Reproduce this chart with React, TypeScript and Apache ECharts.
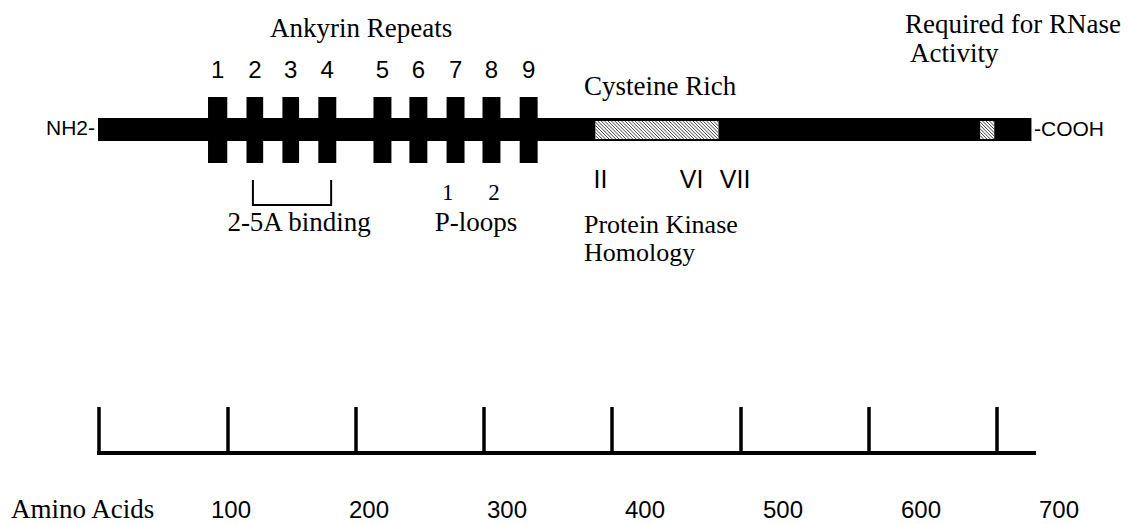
import React, { useEffect, useRef } from "react";
import * as echarts from "echarts";

// ---- data (amino-acid positions) ----
const proteinLength = 727;
const axisExtent = 729;
const ankyrinRepeats: number[][] = [
  [85, 100], [115, 128], [143, 156], [171, 185], [214, 228],
  [242, 256], [271, 285], [299, 313], [328, 342],
];
const ankyrinNumbers = ["1", "2", "3", "4", "5", "6", "7", "8", "9"];
const hatchedRegions: number[][] = [[387, 483], [687, 698]];
const bindingRegion: number[][] = [[120, 181]];
const pLoopLabels = ["1", "2"];
const pLoopPositions = [272, 308];
const kinaseLabels = ["II", "VI", "VII"];
const kinasePositions = [391, 462, 496];
const rulerTicks = [0, 100, 200, 300, 400, 500, 600, 700];
const rulerLabels = [100, 200, 300, 400, 500, 600, 700];

const SERIF = "'Liberation Serif', 'Times New Roman', serif";
const SANS = "'Liberation Sans', Arial, sans-serif";

export default function App() {
  const ref = useRef<HTMLDivElement>(null);
  useEffect(() => {
    if (!ref.current) return;
    const chart = echarts.init(ref.current, null, { renderer: "svg" });

    const backbone = {
      type: "custom",
      xAxisIndex: 0,
      yAxisIndex: 0,
      encode: { x: [0, 1], y: 2 },
      data: [[0, proteinLength, 0]],
      renderItem: (params: any, api: any) => {
        const s = api.coord([api.value(0), 0]);
        const e = api.coord([api.value(1), 0]);
        return {
          type: "rect",
          shape: { x: s[0] - 1, y: s[1] - 12, width: e[0] - s[0] + 1, height: 23 },
          style: { fill: "#000" },
        };
      },
    };

    const repeats = {
      type: "custom",
      xAxisIndex: 0,
      yAxisIndex: 0,
      encode: { x: [0, 1], y: 2 },
      data: ankyrinRepeats.map((r, i) => [r[0], r[1], 0, i]),
      renderItem: (params: any, api: any) => {
        const s = api.coord([api.value(0), 0]);
        const e = api.coord([api.value(1), 0]);
        const idx = api.value(3);
        return {
          type: "group",
          children: [
            {
              type: "rect",
              shape: { x: s[0], y: s[1] - 33, width: e[0] - s[0], height: 66 },
              style: { fill: "#000" },
            },
            {
              type: "text",
              style: {
                text: ankyrinNumbers[idx],
                x: (s[0] + e[0]) / 2,
                y: s[1] - 61,
                align: "center",
                verticalAlign: "middle",
                font: `24px ${SANS}`,
                fill: "#000",
              },
            },
          ],
        };
      },
    };

    const hatches = {
      type: "custom",
      xAxisIndex: 0,
      yAxisIndex: 0,
      encode: { x: [0, 1], y: 2 },
      data: hatchedRegions.map((r) => [r[0], r[1], 0]),
      renderItem: (params: any, api: any) => {
        const s = api.coord([api.value(0), 0]);
        const e = api.coord([api.value(1), 0]);
        const x0 = s[0];
        const y0 = s[1] - 9;
        const w = e[0] - s[0];
        const h = 18;
        const children: any[] = [
          { type: "rect", shape: { x: x0, y: y0, width: w, height: h }, style: { fill: "#fff" } },
        ];
        const d = 3.4;
        for (let c = -h; c < w; c += d) {
          const vmin = Math.max(0, -c);
          const vmax = Math.min(h, w - c);
          if (vmax > vmin) {
            children.push({
              type: "line",
              shape: { x1: x0 + vmin + c, y1: y0 + vmin, x2: x0 + vmax + c, y2: y0 + vmax },
              style: { stroke: "#444", lineWidth: 1 },
            });
          }
        }
        return { type: "group", children };
      },
    };

    const bracket = {
      type: "custom",
      xAxisIndex: 0,
      yAxisIndex: 0,
      encode: { x: [0, 1], y: 2 },
      data: bindingRegion.map((r) => [r[0], r[1], 0]),
      renderItem: (params: any, api: any) => {
        const s = api.coord([api.value(0), 0]);
        const e = api.coord([api.value(1), 0]);
        const top = s[1] + 50;
        const bot = s[1] + 75;
        return {
          type: "polyline",
          shape: { points: [[s[0], top], [s[0], bot], [e[0], bot], [e[0], top]] },
          style: { stroke: "#000", lineWidth: 2, fill: "none" },
        };
      },
    };

    const pLoops = {
      type: "custom",
      xAxisIndex: 0,
      yAxisIndex: 0,
      encode: { x: 0, y: 1 },
      data: pLoopPositions.map((p, i) => [p, 0, i]),
      renderItem: (params: any, api: any) => {
        const p = api.coord([api.value(0), 0]);
        return {
          type: "text",
          style: {
            text: pLoopLabels[api.value(2)],
            x: p[0],
            y: p[1] + 62,
            align: "center",
            verticalAlign: "middle",
            font: `23px ${SERIF}`,
            fill: "#000",
          },
        };
      },
    };

    const kinase = {
      type: "custom",
      xAxisIndex: 0,
      yAxisIndex: 0,
      encode: { x: 0, y: 1 },
      data: kinasePositions.map((p, i) => [p, 0, i]),
      renderItem: (params: any, api: any) => {
        const p = api.coord([api.value(0), 0]);
        return {
          type: "text",
          style: {
            text: kinaseLabels[api.value(2)],
            x: p[0],
            y: p[1] + 49,
            align: "center",
            verticalAlign: "middle",
            font: `25px ${SANS}`,
            fill: "#000",
          },
        };
      },
    };

    const txt = (text: string, x: number, y: number, font: string, align = "left", lineHeight = 24) => ({
      type: "text",
      x,
      y,
      style: { text, font, fill: "#000", align, verticalAlign: "middle", lineHeight },
    });

    const option: any = {
      animation: false,
      backgroundColor: "#fff",
      grid: [
        { left: 99, width: 935, top: 97, height: 66 },
        { left: 99, width: 935, top: 300, bottom: 71 },
        { left: 93, width: 966, top: 300, bottom: 15 },
      ],
      xAxis: [
        { gridIndex: 0, type: "value", min: 0, max: axisExtent, show: false },
        {
          gridIndex: 1,
          type: "value",
          min: 0,
          max: axisExtent,
          splitLine: { show: false },
          axisLine: { show: true, lineStyle: { color: "#000", width: 4, cap: "square" } },
          axisTick: {
            show: true,
            inside: true,
            length: 46,
            customValues: rulerTicks,
            lineStyle: { color: "#000", width: 3.5 },
          },
          axisLabel: { show: false },
        },
        {
          gridIndex: 2,
          type: "value",
          min: 0,
          max: 700,
          splitLine: { show: false },
          axisLine: { show: false },
          axisTick: { show: false },
          axisLabel: {
            show: true,
            customValues: rulerLabels,
            margin: 0,
            verticalAlign: "middle",
            color: "#000",
            fontSize: 24,
            fontFamily: SANS,
            showMinLabel: true,
            showMaxLabel: true,
          },
        },
      ],
      yAxis: [
        { gridIndex: 0, type: "value", min: -1, max: 1, show: false },
        { gridIndex: 1, type: "value", min: 0, max: 1, show: false },
        { gridIndex: 2, type: "value", min: 0, max: 1, show: false },
      ],
      series: [backbone, repeats, hatches, bracket, pLoops, kinase],
      graphic: [
        txt("Ankyrin Repeats", 270, 28, `27px ${SERIF}`),
        txt("Cysteine Rich", 584, 86, `27px ${SERIF}`),
        txt("Required for RNase", 905, 24, `27px ${SERIF}`),
        txt("Activity", 910, 53, `27px ${SERIF}`),
        txt("Protein Kinase", 584, 224, `26px ${SERIF}`, "left", 26),
        txt("Homology", 584, 252, `26px ${SERIF}`, "left", 26),
        txt("2-5A binding", 299, 222, `27px ${SERIF}`, "center"),
        txt("P-loops", 476, 222, `27px ${SERIF}`, "center"),
        txt("Amino Acids", 11, 509, `27px ${SERIF}`),
        txt("NH2-", 95, 127, `21px ${SANS}`, "right"),
        txt("-COOH", 1034, 128, `21px ${SANS}`),
      ],
    };
    chart.setOption(option);
    return () => chart.dispose();
  }, []);
  return (
    <div
      ref={ref}
      style={{ position: "fixed", left: 0, top: 0, width: 1135, height: 524, background: "#fff" }}
    />
  );
}
